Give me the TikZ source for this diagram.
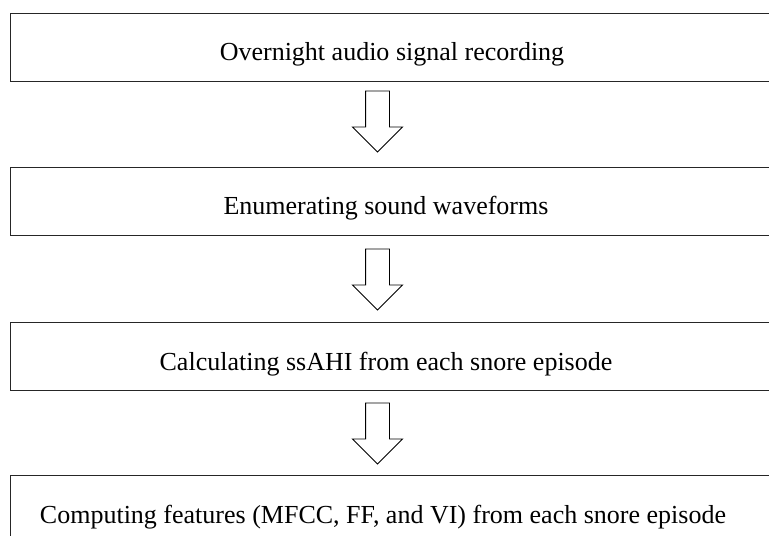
\documentclass[tikz,border=0pt]{standalone}
\usepackage{fontspec}
\setmainfont{Liberation Serif}
\usetikzlibrary{shapes.arrows}
\tikzset{
  stagebox/.style={draw=black!85,line width=0.9bp,anchor=north west,
    minimum width=800bp,minimum height=68bp,inner sep=0pt},
  stagetext/.style={anchor=base,inner sep=0pt,font=\fontsize{26bp}{30bp}\selectfont},
  flowarrow/.style={single arrow,draw=black,line width=0.9bp,fill=white,rotate=-90,
    minimum height=61bp,text height=23bp,text depth=0pt,inner sep=0pt,
    single arrow head extend=13bp}
}

\begin{document}
\begin{tikzpicture}[x=1bp,y=1bp]
        \useasboundingbox (0,0) rectangle (769,-536);
        \clip (0,0) rectangle (769,-536);
        % stages
        \node[stagebox] (b1) at (10,-13) {};
        \node[stagebox] (b2) at (10,-167) {};
        \node[stagebox] (b3) at (10,-322) {};
        \node[stagebox] (b4) at (10,-475) {};
        \node[stagetext] (t1) at (392,-61) {Overnight audio signal recording};
        \node[stagetext] (t2) at (386,-215) {Enumerating sound waveforms};
        \node[stagetext] (t3) at (386,-370) {Calculating ssAHI from each snore episode};
        \node[stagetext] (t4) at (383,-523) {Computing features (MFCC, FF, and VI) from each snore episode};
        % arrows between stages
        \node[flowarrow] (a1) at (377.5,-115.5) {};
        \node[flowarrow] (a2) at (377.5,-273.5) {};
        \node[flowarrow] (a3) at (377.5,-427.5) {};
      \end{tikzpicture}
\end{document}
